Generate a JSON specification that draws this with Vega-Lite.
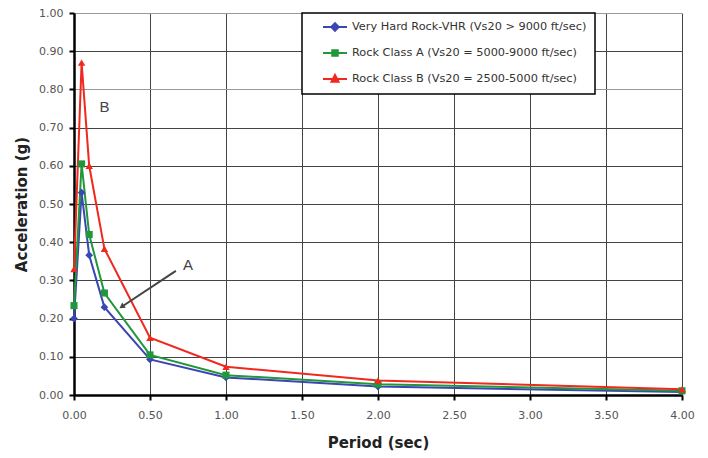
{
  "$schema": "https://vega.github.io/schema/vega-lite/v6.json",
  "width": 608,
  "height": 382,
  "autosize": {"type": "none"},
  "padding": {"left": 74, "top": 13, "right": 26, "bottom": 63},
  "background": "white",
  "config": {
    "view": {"stroke": null},
    "font": "DejaVu Sans",
    "legend": {"strokeColor": "black", "strokeWidth": 1.5, "fillColor": "white"}
  },
  "datasets": {
    "spectra": [
      {"series": "Very Hard Rock-VHR (Vs20 > 9000 ft/sec)", "period": 0, "accel": 0.2},
      {"series": "Very Hard Rock-VHR (Vs20 > 9000 ft/sec)", "period": 0.05, "accel": 0.53},
      {"series": "Very Hard Rock-VHR (Vs20 > 9000 ft/sec)", "period": 0.1, "accel": 0.366},
      {"series": "Very Hard Rock-VHR (Vs20 > 9000 ft/sec)", "period": 0.2, "accel": 0.23},
      {"series": "Very Hard Rock-VHR (Vs20 > 9000 ft/sec)", "period": 0.5, "accel": 0.093},
      {"series": "Very Hard Rock-VHR (Vs20 > 9000 ft/sec)", "period": 1, "accel": 0.046},
      {"series": "Very Hard Rock-VHR (Vs20 > 9000 ft/sec)", "period": 2, "accel": 0.022},
      {"series": "Very Hard Rock-VHR (Vs20 > 9000 ft/sec)", "period": 4, "accel": 0.008},
      {"series": "Rock Class A (Vs20 = 5000-9000 ft/sec)", "period": 0, "accel": 0.234},
      {"series": "Rock Class A (Vs20 = 5000-9000 ft/sec)", "period": 0.05, "accel": 0.605},
      {"series": "Rock Class A (Vs20 = 5000-9000 ft/sec)", "period": 0.1, "accel": 0.42},
      {"series": "Rock Class A (Vs20 = 5000-9000 ft/sec)", "period": 0.2, "accel": 0.267},
      {"series": "Rock Class A (Vs20 = 5000-9000 ft/sec)", "period": 0.5, "accel": 0.105},
      {"series": "Rock Class A (Vs20 = 5000-9000 ft/sec)", "period": 1, "accel": 0.052},
      {"series": "Rock Class A (Vs20 = 5000-9000 ft/sec)", "period": 2, "accel": 0.028},
      {"series": "Rock Class A (Vs20 = 5000-9000 ft/sec)", "period": 4, "accel": 0.011},
      {"series": "Rock Class B (Vs20 = 2500-5000 ft/sec)", "period": 0, "accel": 0.33},
      {"series": "Rock Class B (Vs20 = 2500-5000 ft/sec)", "period": 0.05, "accel": 0.87},
      {"series": "Rock Class B (Vs20 = 2500-5000 ft/sec)", "period": 0.1, "accel": 0.6},
      {"series": "Rock Class B (Vs20 = 2500-5000 ft/sec)", "period": 0.2, "accel": 0.383},
      {"series": "Rock Class B (Vs20 = 2500-5000 ft/sec)", "period": 0.5, "accel": 0.15},
      {"series": "Rock Class B (Vs20 = 2500-5000 ft/sec)", "period": 1, "accel": 0.074},
      {"series": "Rock Class B (Vs20 = 2500-5000 ft/sec)", "period": 2, "accel": 0.038},
      {"series": "Rock Class B (Vs20 = 2500-5000 ft/sec)", "period": 4, "accel": 0.015}
    ],
    "labels": [
      {"period": 0.2, "accel": 0.755, "label": "B"},
      {"period": 0.75, "accel": 0.34, "label": "A"}
    ],
    "arrow": [
      {"period": 0.67, "accel": 0.325, "end": false},
      {"period": 0.314, "accel": 0.231, "end": true}
    ]
  },
  "encoding": {
    "x": {
      "field": "period", "type": "quantitative",
      "scale": {"domain": [0, 4], "nice": false},
      "axis": {
        "values": [0, 0.5, 1, 1.5, 2, 2.5, 3, 3.5, 4],
        "format": ".2f",
        "title": "Period (sec)",
        "titleFont": "DejaVu Sans", "titleFontSize": 15, "titleFontWeight": "bold", "titleColor": "#222",
        "titlePadding": 15,
        "labelFont": "DejaVu Sans", "labelFontSize": 11, "labelColor": "#555", "labelPadding": 9, "labelFlush": false,
        "tickSize": 5, "tickColor": "black", "tickWidth": 2,
        "domainColor": "black", "domainWidth": 2.5,
        "grid": true, "gridColor": "#444", "gridWidth": 1
      }
    },
    "y": {
      "field": "accel", "type": "quantitative",
      "scale": {"domain": [0, 1], "nice": false},
      "axis": {
        "values": [0, 0.1, 0.2, 0.3, 0.4, 0.5, 0.6, 0.7, 0.8, 0.9, 1],
        "format": ".2f",
        "title": "Acceleration (g)",
        "titleFont": "DejaVu Sans", "titleFontSize": 15, "titleFontWeight": "bold", "titleColor": "#222",
        "titlePadding": 9,
        "labelFont": "DejaVu Sans", "labelFontSize": 11, "labelColor": "#555", "labelPadding": 6, "labelFlush": false,
        "tickSize": 5, "tickColor": "black", "tickWidth": 2,
        "domainColor": "black", "domainWidth": 2.5,
        "grid": true,
        "gridColor": {"condition": {"test": "(datum.value > 0.75 && datum.value < 0.85) || datum.value > 0.95", "value": "#9a9a9a"}, "value": "#444"},
        "gridWidth": 1
      }
    }
  },
  "layer": [
    {
      "data": {"name": "spectra"},
      "mark": {"type": "line", "strokeWidth": 2},
      "encoding": {
        "stroke": {
          "field": "series", "type": "nominal",
          "scale": {
            "domain": ["Very Hard Rock-VHR (Vs20 > 9000 ft/sec)", "Rock Class A (Vs20 = 5000-9000 ft/sec)", "Rock Class B (Vs20 = 2500-5000 ft/sec)"],
            "range": ["#3a46b4", "#21963a", "#f0281e"]
          },
          "legend": null
        }
      }
    },
    {
      "data": {"name": "spectra"},
      "transform": [{"filter": "datum.series === 'Very Hard Rock-VHR (Vs20 > 9000 ft/sec)'"}],
      "mark": {"type": "point", "filled": true, "opacity": 1, "shape": "diamond", "color": "#3a46b4", "size": 60}
    },
    {
      "data": {"name": "spectra"},
      "transform": [{"filter": "datum.series === 'Rock Class A (Vs20 = 5000-9000 ft/sec)'"}],
      "mark": {"type": "point", "filled": true, "opacity": 1, "shape": "square", "color": "#21963a", "size": 50}
    },
    {
      "data": {"name": "spectra"},
      "transform": [{"filter": "datum.series === 'Rock Class B (Vs20 = 2500-5000 ft/sec)'"}],
      "mark": {"type": "point", "filled": true, "opacity": 1, "shape": "triangle-up", "color": "#f0281e", "size": 55}
    },
    {
      "data": {"name": "spectra"},
      "mark": {"type": "point", "filled": true, "opacity": 0},
      "encoding": {
        "shape": {
          "field": "series", "type": "nominal",
          "scale": {
            "domain": ["Very Hard Rock-VHR (Vs20 > 9000 ft/sec)", "Rock Class A (Vs20 = 5000-9000 ft/sec)", "Rock Class B (Vs20 = 2500-5000 ft/sec)"],
            "range": [
              "M1.4,0L6.2,0M3.8,-0.75L4.55,0L3.8,0.75L3.05,0Z",
              "M1.4,0L6.2,0M3.25,-0.55L4.35,-0.55L4.35,0.55L3.25,0.55Z",
              "M1.4,0L6.2,0M3.8,-0.8L4.5,0.55L3.1,0.55Z"
            ]
          },
          "legend": {
            "title": null, "orient": "none", "legendX": 228, "legendY": 0,
            "padding": 8, "symbolSize": 100, "symbolStrokeWidth": 2, "symbolOpacity": 1,
            "labelFont": "DejaVu Sans", "labelFontSize": 11.3, "labelColor": "#333", "labelLimit": 400,
            "rowPadding": 11, "labelOffset": 30,
            "encoding": {
              "symbols": {
                "stroke": {"value": {"expr": "scale('stroke', datum.value)"}},
                "fill": {"value": {"expr": "scale('stroke', datum.value)"}},
                "opacity": {"value": 1}
              }
            }
          }
        }
      }
    },
    {
      "data": {"name": "arrow"},
      "mark": {"type": "line", "color": "#444", "strokeWidth": 2}
    },
    {
      "data": {"name": "arrow"},
      "transform": [{"filter": "datum.end"}],
      "mark": {"type": "point", "shape": "triangle-up", "filled": true, "color": "#444", "size": 40, "angle": 236, "opacity": 1}
    },
    {
      "data": {"name": "labels"},
      "mark": {"type": "text", "font": "Liberation Sans", "fontSize": 15, "color": "#444"},
      "encoding": {
        "text": {"field": "label"}
      }
    }
  ],
  "resolve": {"scale": {"shape": "independent"}}
}
